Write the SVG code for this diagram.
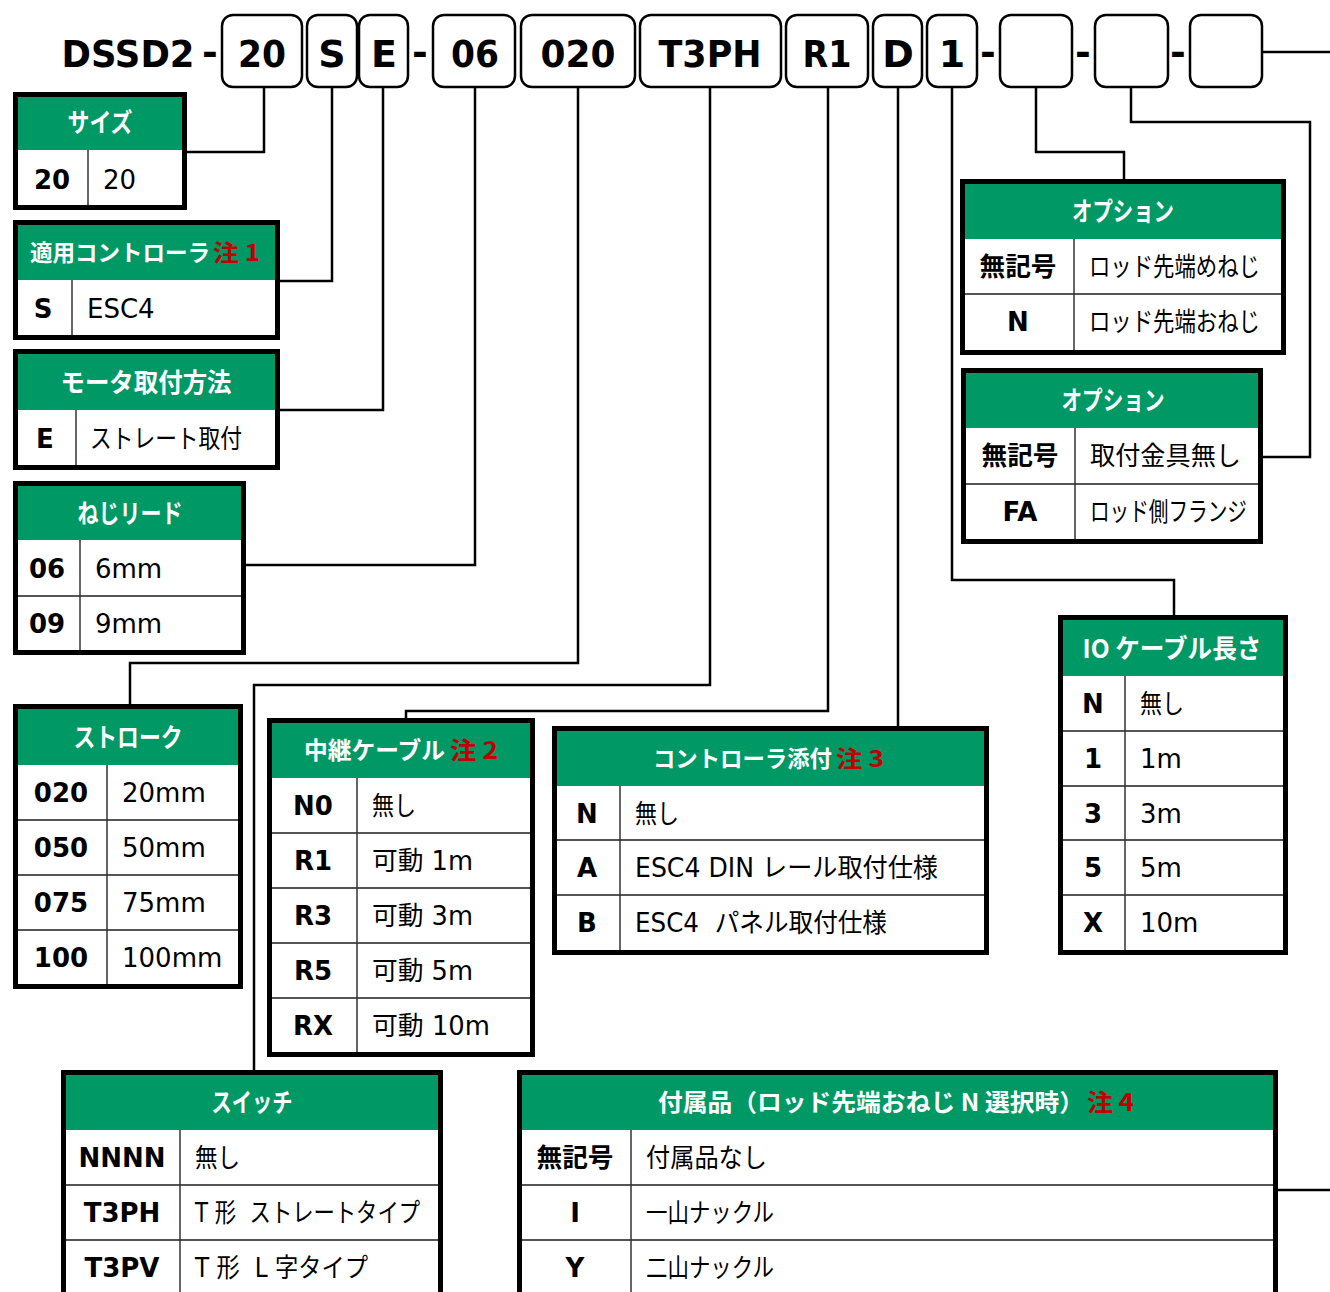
<svg xmlns="http://www.w3.org/2000/svg" width="1330" height="1292" viewBox="0 0 1330 1292">
<style>
.hdr{font-family:"DejaVu Sans","Noto Sans CJK JP",sans-serif;font-weight:bold;font-size:38px;text-anchor:middle;fill:#000}
.box{fill:#fff;stroke:#000;stroke-width:2.5}
.frame{fill:none;stroke:#000;stroke-width:5}
.hd{fill:#009966}
.body{fill:#fff}
.rl{stroke:#555;stroke-width:2}
.cl{stroke:#333;stroke-width:1.5}
.tt{font-family:"Noto Sans CJK JP",sans-serif;font-weight:bold;font-size:26px;fill:#fff;text-anchor:middle}
.ts{font-family:"Noto Sans CJK JP",sans-serif;font-weight:bold;font-size:26px;fill:#fff}
.sm{font-size:24px}
.xs{font-size:22.5px}
.s6{font-size:23.5px}
.red{fill:#c00000}
.cd{font-family:"DejaVu Sans","Noto Sans CJK JP",sans-serif;font-weight:bold;font-size:26px;text-anchor:middle;fill:#000}
.vl{font-family:"DejaVu Sans","Noto Sans CJK JP",sans-serif;font-size:26px;fill:#000}
.cn{fill:none;stroke:#000;stroke-width:2.5}
</style>
<rect width="1330" height="1292" fill="#fff"/>

<g id="connectors">
<polyline class="cn" points="264,87 264,152 187,152"/>
<polyline class="cn" points="332,87 332,281 280,281"/>
<polyline class="cn" points="383,87 383,410 280,410"/>
<polyline class="cn" points="475,87 475,565 246,565"/>
<polyline class="cn" points="578,87 578,663 130,663 130,704"/>
<polyline class="cn" points="710,87 710,685 254,685 254,1070"/>
<polyline class="cn" points="828,87 828,711 406,711 406,718"/>
<polyline class="cn" points="898,87 898,726"/>
<polyline class="cn" points="952,87 952,580 1174,580 1174,615"/>
<polyline class="cn" points="1036,87 1036,152 1124,152 1124,179"/>
<polyline class="cn" points="1131,87 1131,122 1310,122 1310,457 1263,457"/>
<polyline class="cn" points="1262,52 1330,52"/>
<polyline class="cn" points="1278,1190 1330,1190"/>
</g>

<g id="model-code">
<text class="hdr" x="128" y="67" textLength="133" lengthAdjust="spacingAndGlyphs">DSSD2</text>
<text class="hdr" x="210" y="65">-</text>
<text class="hdr" x="420" y="65">-</text>
<text class="hdr" x="988" y="65">-</text>
<text class="hdr" x="1083" y="65">-</text>
<text class="hdr" x="1178" y="65">-</text>
<g id="box-20"><rect class="box" x="222" y="15" width="80" height="72" rx="11"/><text class="hdr" x="262" y="67" textLength="48" lengthAdjust="spacingAndGlyphs">20</text></g>
<g id="box-S"><rect class="box" x="307" y="15" width="50" height="72" rx="11"/><text class="hdr" x="332" y="67">S</text></g>
<g id="box-E"><rect class="box" x="359" y="15" width="49" height="72" rx="11"/><text class="hdr" x="384" y="67">E</text></g>
<g id="box-06"><rect class="box" x="433" y="15" width="82" height="72" rx="11"/><text class="hdr" x="475" y="67" textLength="48" lengthAdjust="spacingAndGlyphs">06</text></g>
<g id="box-020"><rect class="box" x="521" y="15" width="114" height="72" rx="11"/><text class="hdr" x="578" y="67" textLength="75" lengthAdjust="spacingAndGlyphs">020</text></g>
<g id="box-T3PH"><rect class="box" x="640" y="15" width="141" height="72" rx="11"/><text class="hdr" x="710" y="67" textLength="103" lengthAdjust="spacingAndGlyphs">T3PH</text></g>
<g id="box-R1"><rect class="box" x="786" y="15" width="82" height="72" rx="11"/><text class="hdr" x="827" y="67" textLength="49" lengthAdjust="spacingAndGlyphs">R1</text></g>
<g id="box-D"><rect class="box" x="873" y="15" width="49" height="72" rx="11"/><text class="hdr" x="898" y="67">D</text></g>
<g id="box-1"><rect class="box" x="927" y="15" width="50" height="72" rx="11"/><text class="hdr" x="952" y="67">1</text></g>
<g id="box-opt1"><rect class="box" x="1000" y="15" width="72" height="72" rx="11"/></g>
<g id="box-opt2"><rect class="box" x="1095" y="15" width="73" height="72" rx="11"/></g>
<g id="box-opt3"><rect class="box" x="1190" y="15" width="72" height="72" rx="11"/></g>
</g>

<g id="tbl-size">
<rect class="hd" x="13" y="92" width="174" height="58"/>
<rect class="body" x="13" y="150" width="174" height="60"/>
<line class="cl" x1="88" y1="150" x2="88" y2="210"/>
<rect class="frame" x="15.5" y="94.5" width="169" height="113"/>
<text class="tt" x="100" y="132" textLength="65" lengthAdjust="spacingAndGlyphs">サイズ</text>
<text class="cd" x="52" y="189">20</text>
<text class="vl" x="103" y="189">20</text>
</g>

<g id="tbl-controller">
<rect class="hd" x="13" y="220" width="267" height="60"/>
<rect class="body" x="13" y="280" width="267" height="60"/>
<line class="cl" x1="72" y1="280" x2="72" y2="340"/>
<rect class="frame" x="15.5" y="222.5" width="262" height="115"/>
<text class="ts xs" x="30" y="261" textLength="180" lengthAdjust="spacingAndGlyphs">適用コントローラ</text>
<text class="ts xs red" x="213" y="261" textLength="47" lengthAdjust="spacingAndGlyphs">注 1</text>
<text class="cd" x="43" y="318">S</text>
<text class="vl" x="87" y="318">ESC4</text>
</g>

<g id="tbl-motor">
<rect class="hd" x="13" y="349" width="267" height="61"/>
<rect class="body" x="13" y="410" width="267" height="60"/>
<line class="cl" x1="76" y1="410" x2="76" y2="470"/>
<rect class="frame" x="15.5" y="351.5" width="262" height="116"/>
<text class="tt" x="146" y="392" textLength="171" lengthAdjust="spacingAndGlyphs">モータ取付方法</text>
<text class="cd" x="45" y="448">E</text>
<text class="vl" x="90" y="448" textLength="152" lengthAdjust="spacingAndGlyphs">ストレート取付</text>
</g>

<g id="tbl-lead">
<rect class="hd" x="13" y="481" width="233" height="59"/>
<rect class="body" x="13" y="540" width="233" height="115"/>
<line class="rl" x1="13" y1="596" x2="246" y2="596"/>
<line class="cl" x1="80" y1="540" x2="80" y2="655"/>
<rect class="frame" x="15.5" y="483.5" width="228" height="169"/>
<text class="tt" x="130" y="523" textLength="105" lengthAdjust="spacingAndGlyphs">ねじリード</text>
<text class="cd" x="47" y="578">06</text>
<text class="vl" x="95" y="578">6mm</text>
<text class="cd" x="47" y="633">09</text>
<text class="vl" x="95" y="633">9mm</text>
</g>

<g id="tbl-stroke">
<rect class="hd" x="13" y="704" width="230" height="61"/>
<rect class="body" x="13" y="765" width="230" height="224"/>
<line class="rl" x1="13" y1="820" x2="243" y2="820"/>
<line class="rl" x1="13" y1="875" x2="243" y2="875"/>
<line class="rl" x1="13" y1="930" x2="243" y2="930"/>
<line class="cl" x1="107" y1="765" x2="107" y2="989"/>
<rect class="frame" x="15.5" y="706.5" width="225" height="280"/>
<text class="tt" x="128" y="747" textLength="109" lengthAdjust="spacingAndGlyphs">ストローク</text>
<text class="cd" x="61" y="802">020</text><text class="vl" x="122" y="802">20mm</text>
<text class="cd" x="61" y="857">050</text><text class="vl" x="122" y="857">50mm</text>
<text class="cd" x="61" y="912">075</text><text class="vl" x="122" y="912">75mm</text>
<text class="cd" x="61" y="967">100</text><text class="vl" x="122" y="967">100mm</text>
</g>

<g id="tbl-relay">
<rect class="hd" x="267" y="718" width="268" height="60"/>
<rect class="body" x="267" y="778" width="268" height="279"/>
<line class="rl" x1="267" y1="833" x2="535" y2="833"/>
<line class="rl" x1="267" y1="888" x2="535" y2="888"/>
<line class="rl" x1="267" y1="943" x2="535" y2="943"/>
<line class="rl" x1="267" y1="998" x2="535" y2="998"/>
<line class="cl" x1="357" y1="778" x2="357" y2="1057"/>
<rect class="frame" x="269.5" y="720.5" width="263" height="334"/>
<text class="ts s6" x="304" y="759" textLength="141" lengthAdjust="spacingAndGlyphs">中継ケーブル</text>
<text class="ts s6 red" x="450" y="759" textLength="48" lengthAdjust="spacingAndGlyphs">注 2</text>
<text class="cd" x="313" y="815">N0</text><text class="vl" x="372" y="815" textLength="44" lengthAdjust="spacingAndGlyphs">無し</text>
<text class="cd" x="313" y="870">R1</text><text class="vl" x="372" y="870" textLength="101" lengthAdjust="spacingAndGlyphs">可動 1m</text>
<text class="cd" x="313" y="925">R3</text><text class="vl" x="372" y="925" textLength="101" lengthAdjust="spacingAndGlyphs">可動 3m</text>
<text class="cd" x="313" y="980">R5</text><text class="vl" x="372" y="980" textLength="101" lengthAdjust="spacingAndGlyphs">可動 5m</text>
<text class="cd" x="313" y="1035">RX</text><text class="vl" x="372" y="1035" textLength="118" lengthAdjust="spacingAndGlyphs">可動 10m</text>
</g>

<g id="tbl-ctrl-attach">
<rect class="hd" x="552" y="726" width="437" height="60"/>
<rect class="body" x="552" y="786" width="437" height="169"/>
<line class="rl" x1="552" y1="840" x2="989" y2="840"/>
<line class="rl" x1="552" y1="895" x2="989" y2="895"/>
<line class="cl" x1="620" y1="786" x2="620" y2="955"/>
<rect class="frame" x="554.5" y="728.5" width="432" height="224"/>
<text class="ts xs" x="653" y="767" textLength="179" lengthAdjust="spacingAndGlyphs">コントローラ添付</text>
<text class="ts xs red" x="836" y="767" textLength="48" lengthAdjust="spacingAndGlyphs">注 3</text>
<text class="cd" x="587" y="823">N</text><text class="vl" x="635" y="823" textLength="44" lengthAdjust="spacingAndGlyphs">無し</text>
<text class="cd" x="587" y="877">A</text><text class="vl" x="635" y="877" textLength="303" lengthAdjust="spacingAndGlyphs">ESC4 DIN レール取付仕様</text>
<text class="cd" x="587" y="932">B</text><text class="vl" x="635" y="932" textLength="252" lengthAdjust="spacingAndGlyphs" xml:space="preserve">ESC4  パネル取付仕様</text>
</g>

<g id="tbl-io">
<rect class="hd" x="1058" y="615" width="230" height="61"/>
<rect class="body" x="1058" y="676" width="230" height="279"/>
<line class="rl" x1="1058" y1="731" x2="1288" y2="731"/>
<line class="rl" x1="1058" y1="786" x2="1288" y2="786"/>
<line class="rl" x1="1058" y1="840" x2="1288" y2="840"/>
<line class="rl" x1="1058" y1="895" x2="1288" y2="895"/>
<line class="cl" x1="1125" y1="676" x2="1125" y2="955"/>
<rect class="frame" x="1060.5" y="617.5" width="225" height="335"/>
<text class="tt" x="1172" y="658" textLength="179" lengthAdjust="spacingAndGlyphs">IO ケーブル長さ</text>
<text class="cd" x="1093" y="713">N</text><text class="vl" x="1140" y="713" textLength="44" lengthAdjust="spacingAndGlyphs">無し</text>
<text class="cd" x="1093" y="768">1</text><text class="vl" x="1140" y="768">1m</text>
<text class="cd" x="1093" y="823">3</text><text class="vl" x="1140" y="823">3m</text>
<text class="cd" x="1093" y="877">5</text><text class="vl" x="1140" y="877">5m</text>
<text class="cd" x="1093" y="932">X</text><text class="vl" x="1140" y="932">10m</text>
</g>

<g id="tbl-option1">
<rect class="hd" x="960" y="179" width="326" height="60"/>
<rect class="body" x="960" y="239" width="326" height="116"/>
<line class="rl" x1="960" y1="294" x2="1286" y2="294"/>
<line class="cl" x1="1074" y1="239" x2="1074" y2="355"/>
<rect class="frame" x="962.5" y="181.5" width="321" height="171"/>
<text class="tt" x="1123" y="221" textLength="102" lengthAdjust="spacingAndGlyphs">オプション</text>
<text class="cd" x="1018" y="276" textLength="77" lengthAdjust="spacingAndGlyphs">無記号</text><text class="vl" x="1089" y="276" textLength="171" lengthAdjust="spacingAndGlyphs">ロッド先端めねじ</text>
<text class="cd" x="1018" y="331">N</text><text class="vl" x="1089" y="331" textLength="171" lengthAdjust="spacingAndGlyphs">ロッド先端おねじ</text>
</g>

<g id="tbl-option2">
<rect class="hd" x="961" y="368" width="302" height="60"/>
<rect class="body" x="961" y="428" width="302" height="116"/>
<line class="rl" x1="961" y1="484" x2="1263" y2="484"/>
<line class="cl" x1="1075" y1="428" x2="1075" y2="544"/>
<rect class="frame" x="963.5" y="370.5" width="297" height="171"/>
<text class="tt" x="1113" y="410" textLength="103" lengthAdjust="spacingAndGlyphs">オプション</text>
<text class="cd" x="1020" y="465" textLength="77" lengthAdjust="spacingAndGlyphs">無記号</text><text class="vl" x="1090" y="465" textLength="151" lengthAdjust="spacingAndGlyphs">取付金具無し</text>
<text class="cd" x="1020" y="521">FA</text><text class="vl" x="1090" y="521" textLength="157" lengthAdjust="spacingAndGlyphs">ロッド側フランジ</text>
</g>

<g id="tbl-switch">
<rect class="hd" x="61" y="1070" width="382" height="60"/>
<rect class="body" x="61" y="1130" width="382" height="170"/>
<line class="rl" x1="61" y1="1185" x2="443" y2="1185"/>
<line class="rl" x1="61" y1="1240" x2="443" y2="1240"/>
<line class="cl" x1="180" y1="1130" x2="180" y2="1300"/>
<rect class="frame" x="63.5" y="1072.5" width="377" height="240"/>
<text class="tt" x="252" y="1112" textLength="81" lengthAdjust="spacingAndGlyphs">スイッチ</text>
<text class="cd" x="122" y="1167">NNNN</text><text class="vl" x="195" y="1167" textLength="45" lengthAdjust="spacingAndGlyphs">無し</text>
<text class="cd" x="122" y="1222">T3PH</text><text class="vl" x="195" y="1222" textLength="225" lengthAdjust="spacingAndGlyphs" xml:space="preserve">T 形  ストレートタイプ</text>
<text class="cd" x="122" y="1277">T3PV</text><text class="vl" x="195" y="1277" textLength="173" lengthAdjust="spacingAndGlyphs" xml:space="preserve">T 形  L 字タイプ</text>
</g>

<g id="tbl-accessory">
<rect class="hd" x="517" y="1070" width="761" height="60"/>
<rect class="body" x="517" y="1130" width="761" height="170"/>
<line class="rl" x1="517" y1="1185" x2="1278" y2="1185"/>
<line class="rl" x1="517" y1="1240" x2="1278" y2="1240"/>
<line class="cl" x1="631" y1="1130" x2="631" y2="1300"/>
<rect class="frame" x="519.5" y="1072.5" width="756" height="240"/>
<text class="ts sm" x="658" y="1111" textLength="426" lengthAdjust="spacingAndGlyphs">付属品（ロッド先端おねじ N 選択時）</text>
<text class="ts sm red" x="1087" y="1111" textLength="47" lengthAdjust="spacingAndGlyphs">注 4</text>
<text class="cd" x="575" y="1167" textLength="77" lengthAdjust="spacingAndGlyphs">無記号</text><text class="vl" x="646" y="1167" textLength="121" lengthAdjust="spacingAndGlyphs">付属品なし</text>
<text class="cd" x="575" y="1222">I</text><text class="vl" x="646" y="1222" textLength="128" lengthAdjust="spacingAndGlyphs">一山ナックル</text>
<text class="cd" x="575" y="1277">Y</text><text class="vl" x="646" y="1277" textLength="128" lengthAdjust="spacingAndGlyphs">二山ナックル</text>
</g>
</svg>
